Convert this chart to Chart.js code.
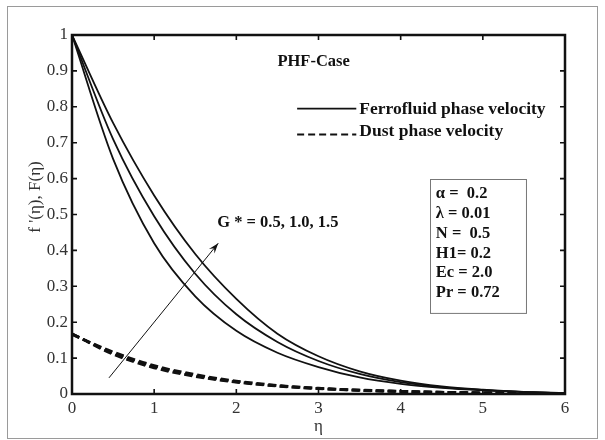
<!DOCTYPE html>
<html><head><meta charset="utf-8">
<script src="https://cdn.jsdelivr.net/npm/chart.js@4/dist/chart.umd.min.js"></script>
<style>html,body{margin:0;padding:0;background:#fff}canvas{display:block}</style>
</head><body>
<canvas id="c" width="605" height="440"></canvas>
<script>
// ---- data ----
const eta = [0, 0.5, 1, 1.5, 2, 2.5, 3, 3.5, 4, 4.5, 5, 5.5, 6];
const ferroG05 = [1, 0.655, 0.42, 0.272, 0.176, 0.115, 0.075, 0.046, 0.028, 0.017, 0.010, 0.005, 0.002];
const ferroG10 = [1, 0.71, 0.495, 0.335, 0.222, 0.145, 0.092, 0.056, 0.033, 0.019, 0.011, 0.006, 0.002];
const ferroG15 = [1, 0.755, 0.553, 0.39, 0.265, 0.168, 0.105, 0.063, 0.037, 0.021, 0.012, 0.006, 0.003];
const dustG05 = [0.168, 0.111, 0.073, 0.049, 0.033, 0.022, 0.015, 0.010, 0.007, 0.0045, 0.003, 0.002, 0.0013];
const dustG10 = [0.167, 0.114, 0.076, 0.051, 0.034, 0.023, 0.0155, 0.0105, 0.0072, 0.0047, 0.0031, 0.0021, 0.0014];
const dustG15 = [0.166, 0.117, 0.079, 0.054, 0.036, 0.024, 0.016, 0.011, 0.0075, 0.0049, 0.0032, 0.0022, 0.0015];
const xTicks = [0, 1, 2, 3, 4, 5, 6];
const yTicks = [0, 0.1, 0.2, 0.3, 0.4, 0.5, 0.6, 0.7, 0.8, 0.9, 1];
const yTickLabels = ['0', '0.1', '0.2', '0.3', '0.4', '0.5', '0.6', '0.7', '0.8', '0.9', '1'];
const xTickLabels = ['0', '1', '2', '3', '4', '5', '6'];
const legendLabels = ['Ferrofluid phase velocity', 'Dust phase velocity'];
const caseLabel = 'PHF-Case';
const paramLines = ['\u03b1 =  0.2', '\u03bb = 0.01', 'N =  0.5', 'H1= 0.2', 'Ec = 2.0', 'Pr = 0.72'];
const arrowLabel = 'G * = 0.5, 1.0, 1.5';
const arrowFrom = [0.45, 0.045];
const arrowTo = [1.78, 0.42];
const xTitle = '\u03b7';
const yTitle = "f '(\u03b7), F(\u03b7)";

const pts = (ys) => eta.map((x, i) => ({x, y: ys[i]}));
const SERIF = '"Liberation Serif", "Times New Roman", serif';
const INK = '#111';

function solid(ys) {
  return {data: pts(ys), borderColor: INK, borderWidth: 1.8, pointRadius: 0, fill: false,
          cubicInterpolationMode: 'monotone'};
}
function dashed(ys) {
  return {data: pts(ys), borderColor: INK, borderWidth: 2.8, borderDash: [8, 4], pointRadius: 0, fill: false,
          cubicInterpolationMode: 'monotone'};
}

const decor = {
  id: 'decor',
  afterDraw(chart) {
    const ctx = chart.ctx, a = chart.chartArea;
    const xs = chart.scales.x, ys = chart.scales.y;
    ctx.save();
    // outer light frame
    ctx.strokeStyle = '#9a9a9a'; ctx.lineWidth = 1;
    ctx.strokeRect(7.5, 6.5, 590, 432);
    // axis box
    ctx.strokeStyle = INK; ctx.lineWidth = 2.5;
    ctx.strokeRect(a.left, a.top, a.right - a.left, a.bottom - a.top);
    // inward ticks on all sides
    ctx.lineWidth = 1.6;
    const tl = 5;
    xTicks.forEach(v => {
      const px = xs.getPixelForValue(v);
      ctx.beginPath(); ctx.moveTo(px, a.bottom); ctx.lineTo(px, a.bottom - tl);
      ctx.moveTo(px, a.top); ctx.lineTo(px, a.top + tl); ctx.stroke();
    });
    yTicks.forEach(v => {
      const py = ys.getPixelForValue(v);
      ctx.beginPath(); ctx.moveTo(a.left, py); ctx.lineTo(a.left + tl, py);
      ctx.moveTo(a.right, py); ctx.lineTo(a.right - tl, py); ctx.stroke();
    });
    // axis titles
    ctx.fillStyle = '#333';
    ctx.font = '17px ' + SERIF;
    ctx.textAlign = 'center'; ctx.textBaseline = 'middle';
    ctx.fillText(xTitle, (a.left + a.right) / 2, 427);
    ctx.save();
    ctx.translate(36, 197); ctx.rotate(-Math.PI / 2);
    ctx.fillText(yTitle, 0, 0);
    ctx.restore();

    ctx.fillStyle = INK;
    ctx.textAlign = 'left';
    // case label
    ctx.font = 'bold 16.5px ' + SERIF;
    ctx.fillText(caseLabel, xs.getPixelForValue(2.5), ys.getPixelForValue(0.925));
    // legend
    const lx0 = xs.getPixelForValue(2.74), lx1 = xs.getPixelForValue(3.46);
    const ly1 = ys.getPixelForValue(0.795), ly2 = ys.getPixelForValue(0.723);
    ctx.lineWidth = 1.8; ctx.setLineDash([]);
    ctx.beginPath(); ctx.moveTo(lx0, ly1); ctx.lineTo(lx1, ly1); ctx.stroke();
    ctx.setLineDash([7, 4]); ctx.lineWidth = 2;
    ctx.beginPath(); ctx.moveTo(lx0, ly2); ctx.lineTo(lx1, ly2); ctx.stroke();
    ctx.setLineDash([]);
    ctx.font = 'bold 17.5px ' + SERIF;
    ctx.fillText(legendLabels[0], lx1 + 3, ly1 + 1);
    ctx.fillText(legendLabels[1], lx1 + 3, ly2 - 3);
    // parameter box
    const bx0 = xs.getPixelForValue(4.355), bx1 = xs.getPixelForValue(5.523);
    const by0 = ys.getPixelForValue(0.599), by1 = ys.getPixelForValue(0.226);
    ctx.strokeStyle = '#777'; ctx.lineWidth = 1;
    ctx.strokeRect(Math.round(bx0) + 0.5, Math.round(by0) + 0.5, bx1 - bx0, by1 - by0);
    ctx.font = 'bold 16.5px ' + SERIF;
    paramLines.forEach((t, i) => {
      ctx.fillText(t, bx0 + 6, by0 + 15 + i * 19.8);
    });
    // arrow
    const ax0 = xs.getPixelForValue(arrowFrom[0]), ay0 = ys.getPixelForValue(arrowFrom[1]);
    const ax1 = xs.getPixelForValue(arrowTo[0]), ay1 = ys.getPixelForValue(arrowTo[1]);
    ctx.strokeStyle = INK; ctx.lineWidth = 1;
    ctx.beginPath(); ctx.moveTo(ax0, ay0); ctx.lineTo(ax1, ay1); ctx.stroke();
    const ang = Math.atan2(ay1 - ay0, ax1 - ax0), hl = 11, hw = 0.33;
    ctx.beginPath();
    ctx.moveTo(ax1, ay1);
    ctx.lineTo(ax1 - hl * Math.cos(ang - hw), ay1 - hl * Math.sin(ang - hw));
    ctx.lineTo(ax1 - hl * 0.6 * Math.cos(ang), ay1 - hl * 0.6 * Math.sin(ang));
    ctx.lineTo(ax1 - hl * Math.cos(ang + hw), ay1 - hl * Math.sin(ang + hw));
    ctx.closePath(); ctx.fill();
    ctx.font = 'bold 16.5px ' + SERIF;
    ctx.fillText(arrowLabel, ax1 - 1, ay1 - 20);
    ctx.restore();
  }
};

new Chart(document.getElementById('c'), {
  type: 'line',
  data: {
    datasets: [solid(ferroG05), solid(ferroG10), solid(ferroG15),
               dashed(dustG05), dashed(dustG10), dashed(dustG15)]
  },
  options: {
    responsive: false, animation: false, devicePixelRatio: 1,
    layout: {padding: {left: 0, right: 40, top: 35, bottom: 0}},
    plugins: {legend: {display: false}, tooltip: {enabled: false}},
    scales: {
      x: {
        type: 'linear', min: 0, max: 6,
        afterBuildTicks: s => { s.ticks = xTicks.map(v => ({value: v})); },
        afterFit: s => { s.height = 46; },
        grid: {display: false, drawTicks: false},
        border: {display: false},
        ticks: {padding: 4, color: '#333', font: {family: SERIF, size: 17},
                callback: (v) => xTickLabels[xTicks.indexOf(v)] ?? ''}
      },
      y: {
        type: 'linear', min: 0, max: 1,
        afterBuildTicks: s => { s.ticks = yTicks.map(v => ({value: v})); },
        afterFit: s => { s.width = 72; },
        grid: {display: false, drawTicks: false},
        border: {display: false},
        ticks: {padding: 4, color: '#333', font: {family: SERIF, size: 17},
                callback: (v, i) => yTickLabels[i]}
      }
    }
  },
  plugins: [decor]
});
</script>
</body></html>
